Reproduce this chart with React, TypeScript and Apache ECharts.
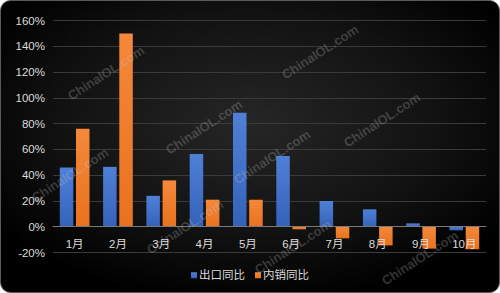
import React, { useEffect, useRef } from "react";
import * as echarts from "echarts";

const categories = ["1月", "2月", "3月", "4月", "5月", "6月", "7月", "8月", "9月", "10月"];
const exportYoY = [46, 46.5, 24, 56.5, 88.5, 55, 20, 13.5, 2.6, -2.8];
const domesticYoY = [76, 150, 36, 21, 21, -2, -9, -14.5, -17, -17.5];
const seriesNames = ["出口同比", "内销同比"];
const watermarkText = "ChinaIOL.com";
const watermarkSpots: [number, number][] = [
  [106, 73], [204, 127], [320, 52], [382, 120], [272, 157],
  [293, 247], [420, 258], [70, 175], [185, 227],
];

const FONT = "'Liberation Sans', Arial, 'Noto Sans CJK SC', sans-serif";
const GRID_TOP = 20.7;
const GRID_BOTTOM = 40.5;
const Y_MIN = -20;
const Y_MAX = 160;

export default function App() {
  const ref = useRef<HTMLDivElement>(null);
  useEffect(() => {
    if (!ref.current) return;
    const chart = echarts.init(ref.current, undefined, { renderer: "svg" });
    const grad = (top: string, bottom: string) =>
      new echarts.graphic.LinearGradient(0, 0, 0, 1, [
        { offset: 0, color: top },
        { offset: 1, color: bottom },
      ]);
    const plotH = 293 - GRID_TOP - GRID_BOTTOM;
    const zeroOffset = -((0 - Y_MIN) / (Y_MAX - Y_MIN)) * plotH;
    chart.setOption({
      animation: false,
      backgroundColor: "transparent",
      textStyle: { fontFamily: FONT },
      grid: { left: 53, right: 14, top: GRID_TOP, bottom: GRID_BOTTOM, containLabel: false },
      legend: {
        data: seriesNames,
        bottom: 7,
        left: "center",
        icon: "rect",
        itemWidth: 6,
        itemHeight: 6,
        itemGap: 10,
        textStyle: { color: "#dcdcdc", fontSize: 11.5, fontFamily: FONT, padding: [0, 0, 0, -3] },
      },
      xAxis: {
        type: "category",
        data: categories,
        position: "bottom",
        offset: zeroOffset,
        z: 10,
        axisLine: { onZero: false, lineStyle: { color: "#7a7a7a", width: 1 } },
        axisTick: { show: false },
        axisLabel: { color: "#dcdcdc", fontSize: 11.5, margin: 12, fontFamily: FONT },
        splitLine: { show: false },
      },
      yAxis: {
        type: "value",
        min: Y_MIN,
        max: Y_MAX,
        interval: 20,
        axisLine: { show: false },
        axisTick: { show: false },
        axisLabel: { color: "#dcdcdc", fontSize: 11.5, margin: 8, formatter: "{value}%", fontFamily: FONT },
        splitLine: { lineStyle: { color: "#3a3a3a", width: 1 } },
      },
      series: [
        {
          name: seriesNames[0],
          type: "bar",
          data: exportYoY,
          barWidth: 13.5,
          barGap: "20%",
          itemStyle: { color: grad("#4f80d8", "#3462b8") },
        },
        {
          name: seriesNames[1],
          type: "bar",
          data: domesticYoY,
          barWidth: 13.5,
          barGap: "20%",
          itemStyle: { color: grad("#f5883a", "#e8721f") },
        },
      ],
      graphic: [
        {
          type: "rect",
          z: -10,
          silent: true,
          shape: { x: 0.5, y: 0.5, width: 499, height: 292, r: 10 },
          style: {
            fill: new echarts.graphic.RadialGradient(0.5, 0.42, 0.62, [
              { offset: 0, color: "#262626" },
              { offset: 0.6, color: "#121212" },
              { offset: 1, color: "#000000" },
            ]),
            stroke: "#5a5a5a",
            lineWidth: 1,
          },
        },
        ...watermarkSpots.map(([x, y]) => ({
          type: "text",
          z: 100,
          silent: true,
          x,
          y,
          rotation: (33 * Math.PI) / 180,
          style: {
            text: watermarkText,
            fill: "rgba(200,200,200,0.25)",
            font: `bold 13px ${FONT}`,
            align: "center",
            verticalAlign: "middle",
          },
        })),
      ],
    });
    return () => chart.dispose();
  }, []);
  return (
    <div style={{ position: "absolute", left: 0, top: 0, width: 500, height: 293, background: "#ffffff" }}>
      <div ref={ref} style={{ width: 500, height: 293 }} />
    </div>
  );
}
